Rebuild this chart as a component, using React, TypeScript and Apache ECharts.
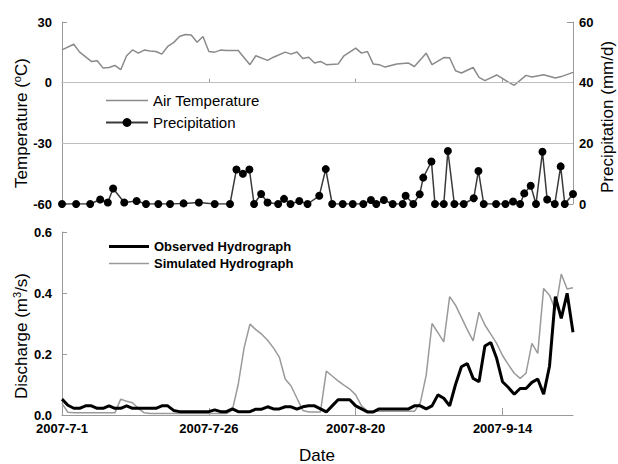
import React, { useEffect, useRef } from 'react';
import * as echarts from 'echarts';

// Days counted from 2007-7-1 (day 0) to 2007-9-26 (day 87)
const xTickDays = [0, 25, 50, 75];
const xTickLabels = ['2007-7-1', '2007-7-26', '2007-8-20', '2007-9-14'];

const tempDays = [0, 2, 3, 5, 6, 7, 8, 9, 10, 11, 12, 13, 14, 15, 16, 17, 18, 19, 20, 21, 22, 23, 24, 25, 26, 27, 28, 30, 32, 33, 35, 36, 38, 39, 40, 41, 42, 43, 44, 45, 47, 48, 50, 51, 52, 53, 54, 55, 57, 59, 60, 62, 63, 65, 66, 67, 68, 70, 71, 72, 74, 76, 77, 79, 80, 82, 84, 85, 87];
const tempValues = [16.2, 19.0, 15.1, 10.5, 10.8, 7.2, 7.5, 8.5, 6.4, 13.3, 16.2, 14.6, 16.1, 15.7, 15.4, 14.1, 17.9, 19.8, 22.8, 23.8, 23.6, 20.0, 22.8, 15.4, 15.1, 16.1, 15.9, 15.9, 8.9, 13.3, 11.0, 12.6, 15.1, 14.1, 15.2, 12.0, 12.6, 9.7, 10.5, 8.9, 9.2, 13.3, 17.1, 14.6, 15.4, 9.2, 8.9, 7.7, 9.2, 9.7, 8.0, 14.6, 8.9, 12.4, 12.3, 5.9, 4.8, 7.5, 2.6, 1.0, 3.8, 0.3, -1.3, 3.6, 2.8, 3.9, 2.3, 3.0, 5.1];

const precipDays = [0, 2.4, 4.8, 6.5, 7.8, 8.7, 10.6, 12.7, 14.3, 16.4, 18.4, 20.7, 23.3, 26.0, 28.6, 29.7, 30.8, 31.9, 32.7, 33.9, 35.0, 36.8, 37.8, 38.9, 40.4, 41.8, 43.8, 44.9, 46.0, 47.8, 49.5, 51.3, 52.6, 53.5, 54.8, 56.3, 58.0, 58.5, 59.8, 60.9, 61.5, 62.9, 63.5, 65.0, 65.7, 66.8, 68.4, 70.1, 70.9, 71.8, 73.9, 75.5, 76.8, 78.0, 78.7, 79.8, 80.7, 81.8, 82.6, 83.9, 84.9, 85.6, 87.0];
const precipValues = [0, 0, 0, 1.5, 0.5, 5.1, 0.5, 1, 0, 0, 0, 0.2, 0.5, 0, 0, 11.4, 10, 11.4, 0, 3.3, 0.5, 0, 1.7, 0, 1, 0, 2.7, 11.5, 0, 0, 0, 0, 1.3, 0, 1.3, 0, 0, 2.7, 0, 3.2, 8.7, 14, 0, 0, 17.5, 0, 0, 1.9, 10.9, 0, 0, 0, 0.8, 0, 3.5, 6, 0, 17.2, 1.5, 0, 12.4, 0, 3.3];

// daily discharge, day 0..87
const observedValues = [0.052, 0.032, 0.022, 0.022, 0.03, 0.03, 0.022, 0.022, 0.03, 0.022, 0.022, 0.03, 0.022, 0.022, 0.022, 0.022, 0.022, 0.03, 0.03, 0.015, 0.011, 0.011, 0.011, 0.011, 0.011, 0.011, 0.017, 0.011, 0.011, 0.02, 0.011, 0.011, 0.011, 0.019, 0.019, 0.027, 0.02, 0.02, 0.027, 0.027, 0.019, 0.027, 0.03, 0.03, 0.02, 0.01, 0.03, 0.05, 0.05, 0.05, 0.03, 0.02, 0.01, 0.01, 0.02, 0.02, 0.02, 0.02, 0.02, 0.02, 0.03, 0.03, 0.02, 0.03, 0.066, 0.055, 0.03, 0.1, 0.158, 0.169, 0.12, 0.109, 0.226, 0.238, 0.186, 0.109, 0.09, 0.068, 0.087, 0.087, 0.107, 0.118, 0.068, 0.16, 0.388, 0.317, 0.399, 0.271];
const simulatedValues = [0.038, 0.009, 0.007, 0.007, 0.007, 0.007, 0.007, 0.007, 0.007, 0.007, 0.052, 0.045, 0.04, 0.022, 0.007, 0.005, 0.005, 0.005, 0.005, 0.005, 0.005, 0.005, 0.005, 0.005, 0.005, 0.005, 0.005, 0.005, 0.005, 0.016, 0.1, 0.22, 0.298, 0.28, 0.265, 0.245, 0.22, 0.19, 0.118, 0.095, 0.055, 0.015, 0.01, 0.01, 0.01, 0.144, 0.128, 0.112, 0.098, 0.085, 0.066, 0.03, 0.013, 0.012, 0.012, 0.012, 0.012, 0.012, 0.012, 0.012, 0.012, 0.04, 0.13, 0.3, 0.27, 0.24, 0.388, 0.36, 0.32, 0.28, 0.243, 0.337, 0.295, 0.265, 0.235, 0.195, 0.165, 0.137, 0.12, 0.137, 0.235, 0.202, 0.415, 0.393, 0.344, 0.462, 0.413, 0.417];

const FONT = "'Liberation Sans', Arial, sans-serif";
const AXIS_GRAY = '#9a9a9a';

export default function App() {
  const ref = useRef<HTMLDivElement>(null);
  useEffect(() => {
    const chart = echarts.init(ref.current!, null, { renderer: 'svg' });
    const labelStyle = { color: '#000', fontWeight: 'bold' as const, fontSize: 13, fontFamily: FONT };
    const axisLine = { show: true, lineStyle: { color: AXIS_GRAY, width: 1 } };
    const tickStyle = { color: AXIS_GRAY, width: 1 };
    chart.setOption({
      animation: false,
      backgroundColor: '#fff',
      grid: [
        { left: 62, right: 45, top: 22, height: 182 },
        { left: 62, right: 45, top: 232, height: 183 },
      ],
      xAxis: [
        {
          type: 'value', gridIndex: 0, min: 0, max: 87,
          axisLine, axisTick: { show: true, inside: true, length: 4, customValues: [25, 50, 75], lineStyle: tickStyle },
          axisLabel: { show: false }, splitLine: { show: false },
        },
        {
          type: 'value', gridIndex: 1, min: 0, max: 87,
          axisLine, axisTick: { show: true, inside: true, length: 7, customValues: [25, 50, 75], lineStyle: tickStyle },
          axisLabel: {
            ...labelStyle, margin: 7, customValues: xTickDays,
            formatter: (v: number) => { const i = xTickDays.indexOf(v); return i >= 0 ? xTickLabels[i] : ''; },
          },
          splitLine: { show: false },
        },
      ],
      yAxis: [
        {
          type: 'value', gridIndex: 0, min: -60, max: 30, interval: 30, position: 'left',
          axisLine, axisTick: { show: true, inside: true, length: 5, lineStyle: tickStyle },
          axisLabel: { ...labelStyle, margin: 10 }, splitLine: { show: false },
        },
        {
          type: 'value', gridIndex: 0, min: 0, max: 60, interval: 20, position: 'right',
          axisLine, axisTick: { show: true, inside: true, length: 6, lineStyle: tickStyle },
          axisLabel: { ...labelStyle, margin: 6 }, splitLine: { show: false },
        },
        {
          type: 'value', gridIndex: 1, min: 0, max: 0.6, interval: 0.2, position: 'left',
          axisLine, axisTick: { show: true, inside: true, length: 5, lineStyle: tickStyle },
          axisLabel: { ...labelStyle, margin: 10, formatter: (v: number) => v.toFixed(1) }, splitLine: { show: false },
        },
      ],
      legend: [
        {
          data: [
            { name: 'Air Temperature', icon: 'path://M0,0H42V1.5H0Z' },
            { name: 'Precipitation' },
          ],
          orient: 'vertical', left: 100, top: 88,
          itemWidth: 42, itemHeight: 11, itemGap: 7, selectedMode: false,
          textStyle: { fontSize: 15, fontFamily: FONT, color: '#000' },
        },
        {
          data: [
            { name: 'Observed Hydrograph', icon: 'path://M0,0H40V3H0Z' },
            { name: 'Simulated Hydrograph', icon: 'path://M0,0H40V1.5H0Z' },
          ],
          orient: 'vertical', left: 104, top: 235,
          itemWidth: 40, itemHeight: 12, itemGap: 4, selectedMode: false,
          textStyle: { fontSize: 13, fontWeight: 'bold', fontFamily: FONT, color: '#000' },
        },
      ],
      series: [
        {
          name: 'Air Temperature', type: 'line', xAxisIndex: 0, yAxisIndex: 0,
          data: tempDays.map((d, i) => [d, tempValues[i]]),
          symbol: 'none', lineStyle: { color: '#8a8a8a', width: 1.5 }, itemStyle: { color: '#8a8a8a' },
          markLine: {
            silent: true, symbol: 'none', label: { show: false },
            lineStyle: { color: '#bdbdbd', type: 'solid', width: 1 },
            data: [{ yAxis: 0 }, { yAxis: -30 }],
          },
        },
        {
          name: 'Precipitation', type: 'line', xAxisIndex: 0, yAxisIndex: 1,
          data: precipDays.map((d, i) => [d, precipValues[i]]),
          symbol: 'circle', symbolSize: 8, itemStyle: { color: '#000' },
          lineStyle: { color: '#3a3a3a', width: 1.5 },
        },
        {
          name: 'Simulated Hydrograph', type: 'line', xAxisIndex: 1, yAxisIndex: 2,
          data: simulatedValues.map((v, i) => [i, v]),
          symbol: 'none', lineStyle: { color: '#9a9a9a', width: 1.5 }, itemStyle: { color: '#9a9a9a' },
        },
        {
          name: 'Observed Hydrograph', type: 'line', xAxisIndex: 1, yAxisIndex: 2,
          data: observedValues.map((v, i) => [i, v]),
          symbol: 'none', lineStyle: { color: '#000', width: 3 }, itemStyle: { color: '#000' },
        },
      ],
      graphic: [
        {
          type: 'text', x: 21, y: 123, rotation: Math.PI / 2,
          style: {
            text: '{a|Temperature (}{s|o}{a|C)}', align: 'center', verticalAlign: 'middle',
            rich: {
              a: { fontSize: 17, fontFamily: FONT, fill: '#000', lineHeight: 20 },
              s: { fontSize: 11, fontFamily: FONT, fill: '#000', verticalAlign: 'top', lineHeight: 12 },
            },
          },
        },
        {
          type: 'text', x: 607, y: 117, rotation: Math.PI / 2,
          style: { text: 'Precipitation (mm/d)', align: 'center', verticalAlign: 'middle', fontSize: 17, fontFamily: FONT, fill: '#000' },
        },
        {
          type: 'text', x: 21, y: 336, rotation: Math.PI / 2,
          style: {
            text: '{a|Discharge (m}{s|3}{a|/s)}', align: 'center', verticalAlign: 'middle',
            rich: {
              a: { fontSize: 17, fontFamily: FONT, fill: '#000', lineHeight: 20 },
              s: { fontSize: 11, fontFamily: FONT, fill: '#000', verticalAlign: 'top', lineHeight: 12 },
            },
          },
        },
        {
          type: 'text', x: 317, y: 455,
          style: { text: 'Date', align: 'center', verticalAlign: 'middle', fontSize: 17, fontFamily: FONT, fill: '#000' },
        },
      ],
    });
    return () => chart.dispose();
  }, []);
  return <div ref={ref} style={{ position: 'absolute', left: 0, top: 0, width: 618, height: 464 }} />;
}
